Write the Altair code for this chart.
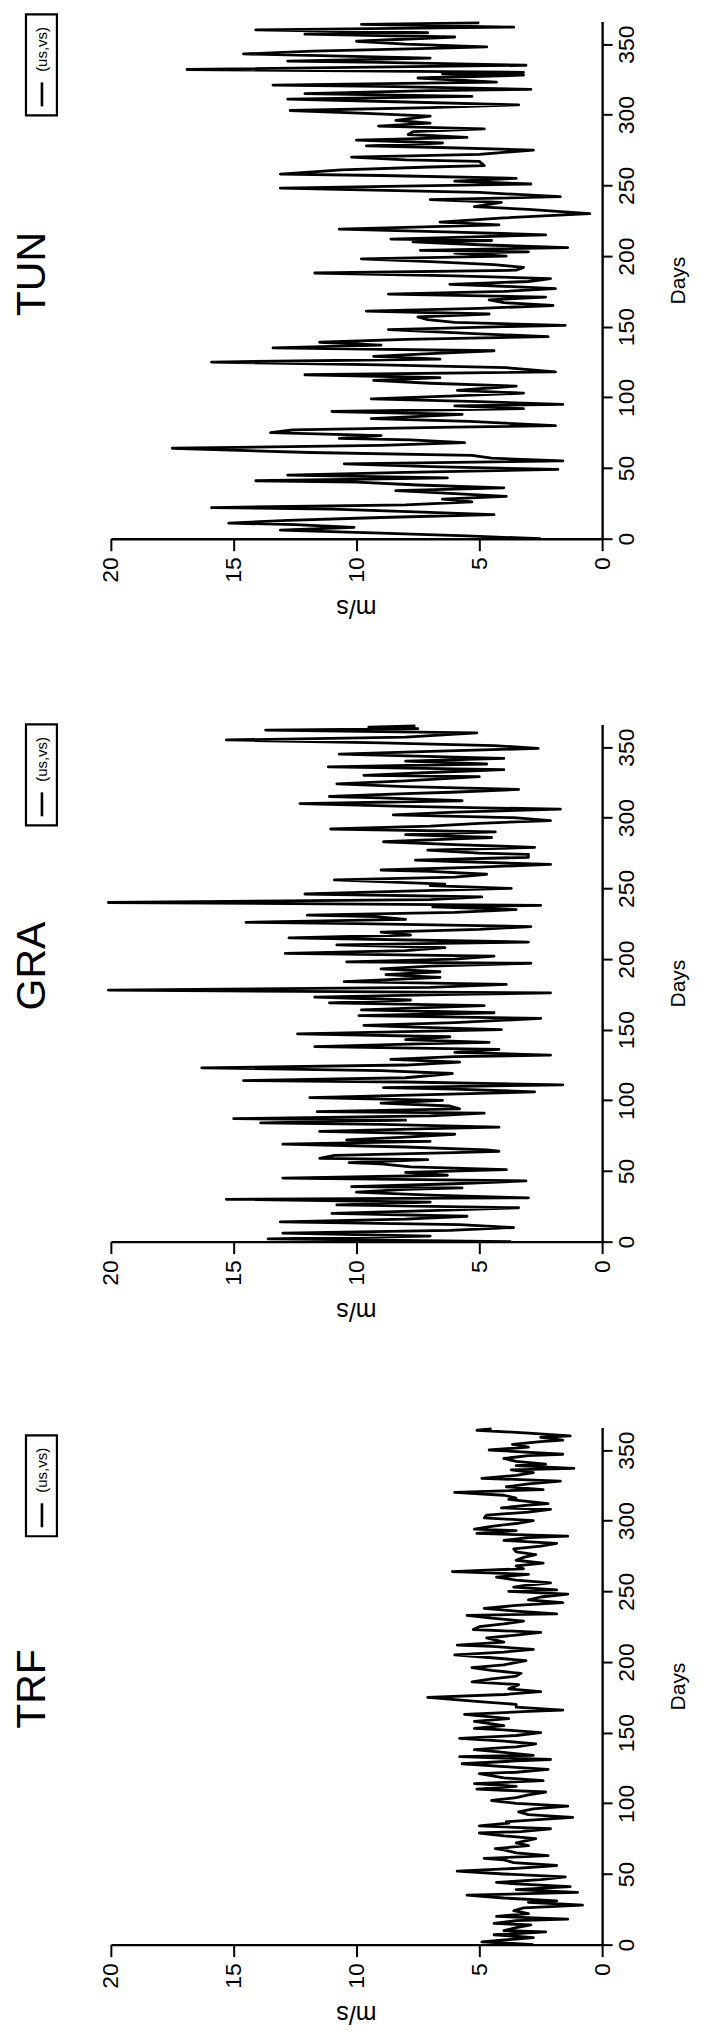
import altair as alt
import pandas as pd

FONT = "Liberation Sans"

stations = ["TUN", "GRA", "TRF"]

tun_days = [0,2,4,6,8,10,11,13,15,17,19,21,22,24,26,28,30,32,34,36,38,40,41,43,45,47,49,51,53,55,57,59,61,64,66,68,70,71,73,75,77,79,80,83,85,88,90,92,94,95,97,99,101,103,105,108,110,112,114,116,118,121,123,125,127,129,131,133,135,137,139,141,143,145,148,150,151,153,155,157,159,161,163,165,167,169,171,173,175,177,179,180,182,184,186,188,190,192,194,196,198,200,202,203,204,206,208,210,211,212,215,217,219,222,224,227,230,233,235,238,240,242,245,248,251,253,255,257,258,261,263,264,267,268,270,272,275,277,278,280,282,284,286,288,290,292,294,296,299,301,303,305,307,309,311,313,315,317,318,320,321,323,326,328,329,330,332,335,337,338,340,343,345,347,348,350,352,355,357,358,360,362,364,365]
tun_vals = [2.5,5.5,9.0,13.1,10.1,12.5,15.2,12.8,9.0,4.4,7.6,11.0,15.9,8.0,5.3,6.5,3.9,6.2,8.4,4.0,7.5,10.0,14.1,6.3,12.8,8.0,1.8,7.0,10.5,1.6,4.5,5.3,11.9,17.5,9.0,5.6,7.8,10.7,9.0,13.5,12.6,6.0,1.9,5.4,9.4,5.7,11.0,3.2,6.0,1.6,5.0,9.4,6.0,3.2,5.9,3.5,7.0,9.3,6.6,12.1,1.9,3.9,9.0,15.9,6.6,9.3,7.0,4.4,13.4,9.0,11.5,8.0,2.2,5.0,8.7,4.0,1.5,6.0,7.1,7.5,4.6,9.6,5.0,2.0,4.0,4.6,2.3,8.7,4.0,1.9,4.5,6.2,3.0,2.1,6.0,11.7,3.5,3.2,4.4,7.0,9.8,3.9,6.0,3.0,7.4,1.4,5.0,7.7,4.5,8.6,2.3,6.0,10.7,4.2,6.6,4.0,0.5,3.0,5.2,4.1,7.0,1.7,5.0,13.1,2.9,6.0,3.5,9.0,13.1,10.6,7.0,4.8,5.0,8.0,10.2,5.0,2.8,7.0,9.6,6.5,10.0,5.5,7.9,7.7,4.8,9.1,7.0,8.4,7.0,9.6,12.7,7.0,3.4,8.0,12.8,5.3,12.1,7.0,2.9,9.0,13.4,4.3,7.5,3.2,6.5,3.2,16.9,3.1,9.0,12.8,7.0,14.6,11.8,7.0,4.7,8.0,10.0,6.0,12.1,7.1,14.1,3.6,9.8,5.0]

gra_days = [0,2,4,6,8,10,12,14,16,18,20,22,24,26,28,30,31,33,35,37,38,39,41,43,45,47,49,51,53,55,56,58,59,61,63,64,65,67,69,71,72,74,76,78,80,81,83,84,86,87,89,91,92,94,96,98,100,102,104,106,108,109,111,113,114,116,119,121,123,125,127,129,131,132,134,136,138,140,141,143,145,147,149,150,152,153,155,158,160,162,164,167,169,171,173,175,176,178,180,182,184,187,189,191,193,195,197,198,200,202,204,206,208,210,212,215,217,219,221,223,225,226,228,230,231,233,235,237,238,240,242,244,246,248,250,252,253,254,256,258,260,262,263,265,267,269,270,272,274,275,277,279,281,283,285,286,288,290,292,294,296,298,300,302,304,306,308,310,312,314,315,317,318,320,322,324,326,329,330,332,334,336,338,340,342,345,347,349,351,353,355,357,360,362,363,364,365]
gra_vals = [3.7,13.6,7.0,13.0,6.2,3.6,5.8,13.1,8.0,5.5,11.0,7.0,3.4,10.8,7.0,15.3,3.0,7.0,10.0,8.0,5.7,10.2,6.0,3.1,13.0,6.3,8.0,3.9,7.8,9.0,10.3,7.1,11.5,10.9,6.0,4.2,4.7,8.0,13.0,7.0,10.4,8.0,6.0,11.5,7.0,4.2,9.0,13.9,8.0,15.0,7.0,4.8,11.6,5.8,6.2,9.0,6.5,11.9,7.0,2.75,6.0,8.9,1.6,8.0,14.6,8.0,6.1,9.0,16.3,8.0,5.8,8.6,6.0,2.1,6.0,4.2,11.7,7.5,4.6,8.0,6.2,12.4,7.0,4.1,8.0,9.7,6.0,2.5,9.9,4.4,9.8,4.8,11.1,7.8,11.7,6.0,2.1,20.1,7.0,3.9,10.5,6.6,8.8,6.6,9.0,7.0,2.9,10.4,6.0,4.4,12.9,8.0,6.4,10.8,3.0,12.75,7.8,9.0,5.0,2.9,10.0,14.5,8.0,9.2,12.0,6.0,3.5,6.9,2.5,20.1,7.0,4.9,12.1,8.0,3.7,7.0,6.4,8.0,10.9,6.0,4.7,7.0,9.0,5.0,2.1,6.0,7.6,3.0,3.0,5.0,7.1,2.75,6.0,8.9,6.0,4.5,8.0,4.35,11.05,7.0,5.0,2.1,3.6,8.5,6.0,1.7,8.0,12.3,5.7,9.0,11.1,8.0,6.15,3.4,8.0,10.8,8.0,5.0,9.7,7.0,4.0,11.15,4.7,8.0,4.0,10.7,7.0,2.6,4.4,9.0,15.3,8.0,5.1,13.7,7.5,9.5,7.6]

trf_days = [0,2,4,5,7,9,10,12,14,15,17,18,20,22,24,26,28,30,31,33,35,37,39,41,43,44,46,48,50,52,54,56,58,60,61,63,65,67,68,70,72,75,77,79,80,82,84,86,87,90,92,94,96,98,100,102,104,106,108,110,112,114,116,118,121,122,124,126,128,130,131,133,134,136,138,140,142,144,146,148,150,152,153,155,158,160,163,165,166,168,170,172,175,177,179,181,184,186,188,190,192,194,196,198,201,203,205,207,209,211,212,214,217,219,221,223,225,227,229,231,233,234,236,238,240,242,244,246,248,250,251,253,254,256,258,260,262,264,266,268,270,272,274,276,278,280,282,284,286,288,289,291,293,294,296,298,300,302,304,306,308,309,311,312,315,316,318,320,322,324,326,328,330,332,334,336,337,339,340,342,344,346,347,350,352,354,356,357,359,360,362,364,365]
trf_vals = [2.8,4.9,3.5,2.8,4.4,2.3,4.0,3.5,2.9,4.4,3.5,1.4,4.3,3.0,3.6,3.2,0.8,3.0,1.85,4.0,5.5,1.0,3.5,1.3,3.5,4.3,2.5,1.5,4.0,5.9,3.5,1.85,3.6,4.0,4.8,2.2,3.5,4.0,4.35,3.0,3.5,2.7,4.0,5.0,3.3,2.1,5.0,3.8,3.9,1.2,3.0,3.4,2.8,1.4,3.5,4.5,3.5,3.0,2.3,5.1,3.5,5.2,2.4,4.0,5.0,3.5,2.2,4.0,5.7,3.5,2.1,5.8,2.8,4.0,5.2,3.5,2.7,4.0,5.8,3.5,2.5,4.0,5.2,4.0,5.2,3.8,5.6,3.0,1.6,3.5,3.5,5.0,7.1,4.0,2.5,3.8,3.4,5.3,4.5,3.5,3.3,4.5,5.3,4.0,3.1,4.5,6.0,4.0,2.8,4.5,5.9,4.0,4.7,3.5,2.5,5.25,5.0,4.0,3.2,4.5,5.5,1.85,3.5,4.8,3.5,1.6,3.0,2.5,1.4,3.8,1.85,3.6,3.2,2.1,3.5,4.3,3.0,6.1,3.2,3.5,2.4,3.5,3.2,2.7,3.5,3.6,2.5,1.85,4.0,3.0,1.4,5.1,3.5,5.2,4.5,3.5,2.8,4.8,4.7,3.0,2.1,4.1,3.0,2.2,3.8,3.5,4.0,6.0,2.4,3.9,3.0,1.7,4.9,3.5,2.8,3.7,1.15,3.5,2.3,3.5,4.0,3.0,1.6,4.6,3.0,3.65,2.5,1.6,2.5,1.3,3.0,5.1,4.5]

series = {"TUN": (tun_days, tun_vals), "GRA": (gra_days, gra_vals), "TRF": (trf_days, trf_vals)}

# per-panel placement of the station name and legend box (pixels, plot area)
title_y = {"TUN": 253, "GRA": 242, "TRF": 262}
legend_top = {"TUN": -7, "GRA": 0, "TRF": 8}

W, H = 492, 518


def panel(name):
    days, vals = series[name]
    df = pd.DataFrame({"day": days, "ms": vals})
    line = alt.Chart(df).mark_line(color="black", strokeWidth=2.8, strokeJoin="round").encode(
        x=alt.X("ms:Q",
                scale=alt.Scale(domain=[0, 20], reverse=True, nice=False, zero=False),
                axis=alt.Axis(orient="bottom", values=[0, 5, 10, 15, 20], format="d",
                              labelAngle=270, labelAlign="right", labelBaseline="middle",
                              labelFont=FONT, labelFontSize=23, labelColor="black",
                              labelPadding=6, labelFlush=False, labelOverlap=False,
                              tickSize=12, tickWidth=2, tickColor="black",
                              domainColor="black", domainWidth=2.4, grid=False,
                              title="")),
        y=alt.Y("day:Q",
                scale=alt.Scale(domain=[0, 366], nice=False, zero=False),
                axis=alt.Axis(orient="right", values=[0, 50, 100, 150, 200, 250, 300, 350], format="d",
                              labelAngle=270, labelAlign="center", labelBaseline="top",
                              labelFont=FONT, labelFontSize=23, labelColor="black",
                              labelPadding=3, labelFlush=False, labelOverlap=False,
                              tickSize=10, tickWidth=2, tickColor="black",
                              domainColor="black", domainWidth=2.4, grid=False,
                              title="Days", titleAngle=270, titleBaseline="top",
                              titleFont=FONT, titleFontSize=21, titleFontWeight="normal",
                              titleColor="black", titlePadding=29)),
        order="day:Q",
    )
    one = pd.DataFrame({"t": [name], "lab": ["(us,vs)"], "u": ["m/s"]})
    xtitle = alt.Chart(one).mark_text(angle=180, align="center", baseline="middle",
                                      font=FONT, fontSize=25, color="black").encode(
        x=alt.value(W / 2), y=alt.value(H + 69), text="u:N")
    title = alt.Chart(one).mark_text(angle=270, align="center", baseline="middle",
                                     font=FONT, fontSize=41, color="black").encode(
        x=alt.value(-78), y=alt.value(title_y[name]), text="t:N")
    top = legend_top[name]
    box = alt.Chart(one).mark_rect(fillOpacity=0, stroke="black", strokeWidth=2.2).encode(
        x=alt.value(-85), x2=alt.value(-54), y=alt.value(top), y2=alt.value(top + 101))
    sample = alt.Chart(one).mark_rule(color="black", strokeWidth=2.6).encode(
        x=alt.value(-69), y=alt.value(top + 68), y2=alt.value(top + 92))
    lab = alt.Chart(one).mark_text(angle=270, align="center", baseline="middle",
                                   font=FONT, fontSize=15, color="black").encode(
        x=alt.value(-69), y=alt.value(top + 35), text="lab:N")
    # invisible anchor fixing the top-left corner of each panel's extent
    anchor = alt.Chart(one).mark_rule(strokeOpacity=0, strokeWidth=0.5).encode(
        x=alt.value(-100), x2=alt.value(-99), y=alt.value(-12), y2=alt.value(-12))
    return alt.layer(line, xtitle, title, box, sample, lab, anchor).properties(width=W, height=H)


chart = alt.vconcat(*[panel(s) for s in stations], spacing=186, bounds="flush").properties(
    padding={"left": 3, "top": 0, "right": 5, "bottom": 5},
    background="white",
).configure_view(strokeWidth=0)

chart.save("out.html", embed_options={"renderer": "svg", "actions": False})
